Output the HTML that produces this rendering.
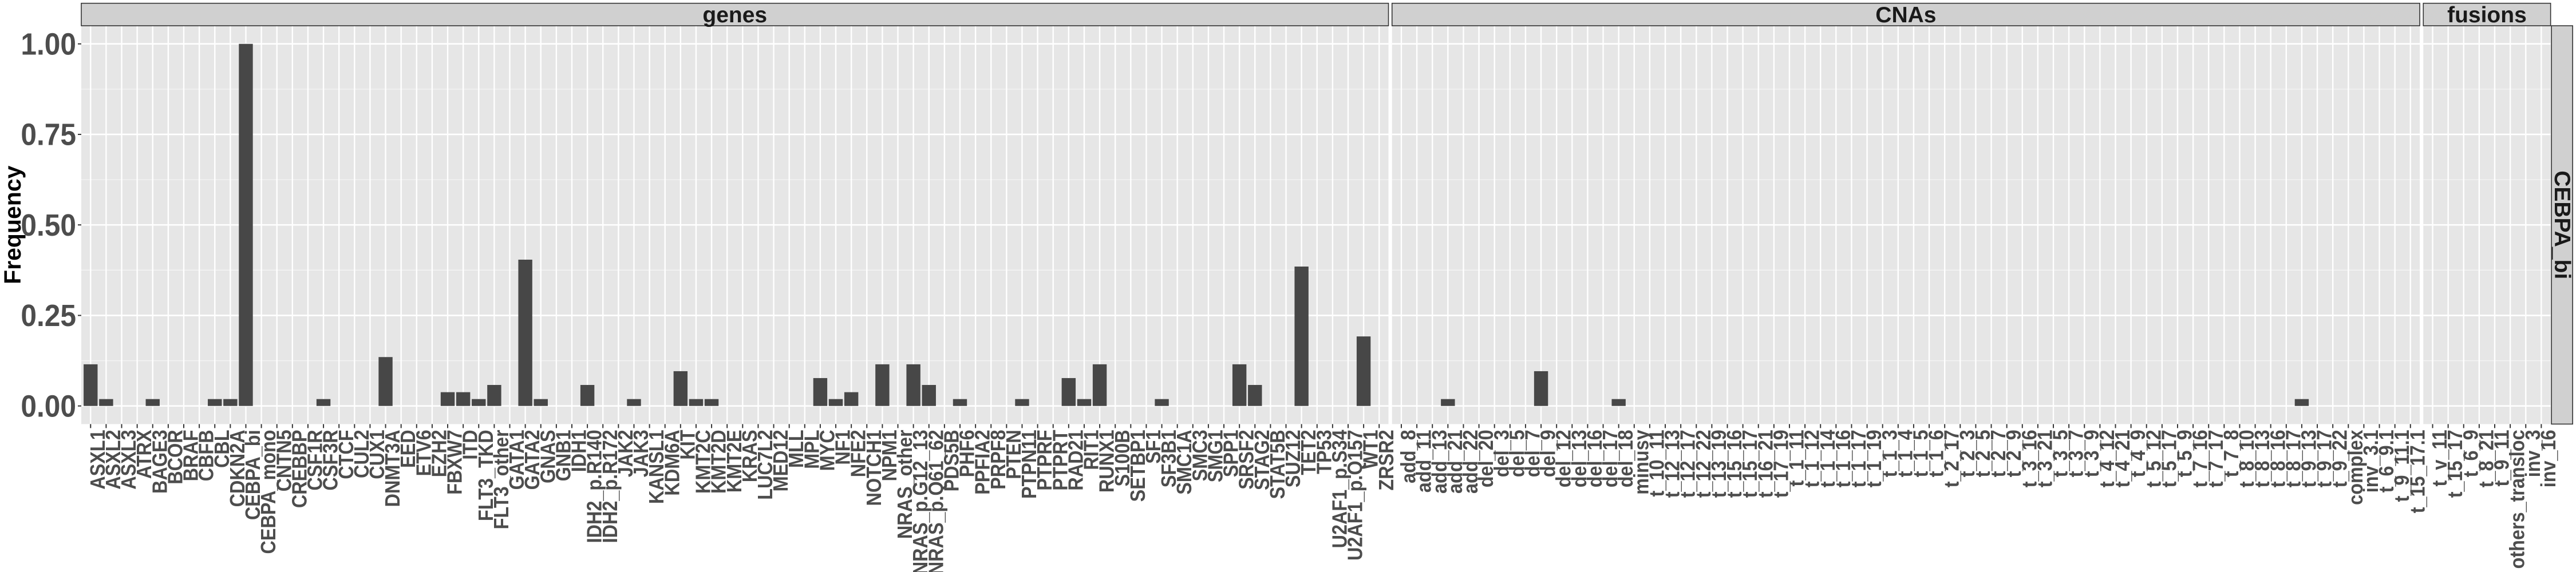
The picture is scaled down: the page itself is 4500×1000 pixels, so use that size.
<!DOCTYPE html>
<html><head><meta charset="utf-8"><style>
html,body{margin:0;padding:0;background:#fff;}
svg{display:block;}
text{font-family:"Liberation Sans",Arial,sans-serif;font-weight:bold;}
</style></head><body>
<svg id="chart" width="4500" height="1000" viewBox="0 0 4500 1000" xmlns="http://www.w3.org/2000/svg"></svg>
<script>
const geneCats = ["ASXL1","ASXL2","ASXL3","ATRX","BAGE3","BCOR","BRAF","CBFB","CBL","CDKN2A","CEBPA_bi","CEBPA_mono","CNTN5","CREBBP","CSF1R","CSF3R","CTCF","CUL2","CUX1","DNMT3A","EED","ETV6","EZH2","FBXW7","ITD","FLT3_TKD","FLT3_other","GATA1","GATA2","GNAS","GNB1","IDH1","IDH2_p.R140","IDH2_p.R172","JAK2","JAK3","KANSL1","KDM6A","KIT","KMT2C","KMT2D","KMT2E","KRAS","LUC7L2","MED12","MLL","MPL","MYC","NF1","NFE2","NOTCH1","NPM1","NRAS_other","NRAS_p.G12_13","NRAS_p.Q61_62","PDS5B","PHF6","PPFIA2","PRPF8","PTEN","PTPN11","PTPRF","PTPRT","RAD21","RIT1","RUNX1","S100B","SETBP1","SF1","SF3B1","SMC1A","SMC3","SMG1","SPP1","SRSF2","STAG2","STAT5B","SUZ12","TET2","TP53","U2AF1_p.S34","U2AF1_p.Q157","WT1","ZRSR2"];
const geneVals = [0.115,0.019,0,0,0.019,0,0,0,0.019,0.019,1.0,0,0,0,0,0.019,0,0,0,0.135,0,0,0,0.038,0.038,0.019,0.058,0,0.404,0.019,0,0,0.058,0,0,0.019,0,0,0.096,0.019,0.019,0,0,0,0,0,0,0.077,0.019,0.038,0,0.115,0,0.115,0.058,0,0.019,0,0,0,0.019,0,0,0.077,0.019,0.115,0,0,0,0.019,0,0,0,0,0.115,0.058,0,0,0.385,0,0,0,0.192,0];
const cnaCats = ["add_8","add_11","add_13","add_21","add_22","del_20","del_3","del_5","del_7","del_9","del_12","del_13","del_16","del_17","del_18","minusy","t_10_11","t_12_13","t_12_17","t_12_22","t_13_19","t_15_16","t_15_17","t_16_21","t_17_19","t_1_11","t_1_12","t_1_14","t_1_16","t_1_17","t_1_19","t_1_3","t_1_4","t_1_5","t_1_6","t_2_17","t_2_3","t_2_5","t_2_7","t_2_9","t_3_16","t_3_21","t_3_5","t_3_7","t_3_9","t_4_12","t_4_21","t_4_9","t_5_12","t_5_17","t_5_9","t_7_16","t_7_17","t_7_8","t_8_10","t_8_13","t_8_16","t_8_17","t_9_13","t_9_17","t_9_22","complex","inv_3.1","t_6_9.1","t_9_11.1","t_15_17.1"];
const cnaVals = [0,0,0,0.019,0,0,0,0,0,0.096,0,0,0,0,0.019,0,0,0,0,0,0,0,0,0,0,0,0,0,0,0,0,0,0,0,0,0,0,0,0,0,0,0,0,0,0,0,0,0,0,0,0,0,0,0,0,0,0,0,0.019,0,0,0,0,0,0,0];
const fusionCats = ["t_v_11","t_15_17","t_6_9","t_8_21","t_9_11","others_transloc","inv_3","inv_16"];
const fusionVals = [0,0,0,0,0,0,0,0];
const yTicks = [0,0.25,0.5,0.75,1.0];
const yTickLabels = ["0.00","0.25","0.50","0.75","1.00"];
const facetNames = ["genes","CNAs","fusions"];
const rowLabel = "CEBPA_bi";

const NS="http://www.w3.org/2000/svg";
const svg=document.getElementById('chart');
function mk(tag,attrs,parent){const e=document.createElementNS(NS,tag);for(const k in attrs)e.setAttribute(k,attrs[k]);(parent||svg).appendChild(e);return e;}

const U=27.12, GAP=6.2, PTOP=45, PBOT=741.4, STRIP_TOP=5.7;
const Y0=709.7, YSCALE=633;
function yPos(v){return Y0-v*YSCALE;}
const panels=[{cats:geneCats,vals:geneVals,name:facetNames[0]},{cats:cnaCats,vals:cnaVals,name:facetNames[1]},{cats:fusionCats,vals:fusionVals,name:facetNames[2]}];
let left=142;
panels.forEach(p=>{p.left=left;p.width=(p.cats.length-1+1.2)*U;left+=p.width+GAP;});
function xPos(p,i){return p.left+0.6*U+i*U;}

panels.forEach((p,pi)=>{
  const g=mk('g',{});
  
  
  const bg=mk('rect',{x:p.left,y:PTOP,width:p.width,height:PBOT-PTOP,fill:'#e6e6e6'},g);
  
  
  for(let k=0;k<4;k++){const v=0.125+k*0.25;mk('line',{x1:p.left,x2:p.left+p.width,y1:yPos(v),y2:yPos(v),stroke:'#f4f4f4','stroke-width':1.4},g);}
  yTicks.forEach(v=>{mk('line',{x1:p.left,x2:p.left+p.width,y1:yPos(v),y2:yPos(v),stroke:'#ffffff','stroke-width':2.6},g);});
  p.cats.forEach((c,i)=>{mk('line',{x1:xPos(p,i),x2:xPos(p,i),y1:PTOP,y2:PBOT,stroke:'#ffffff','stroke-width':2.4},g);});
  p.vals.forEach((v,i)=>{
    if(v<=0)return;
    const r=mk('rect',{x:xPos(p,i)-0.45*U,y:yPos(v),width:0.9*U,height:Y0-yPos(v),fill:'#474747'},g);
    
    
  });
  p.cats.forEach((c,i)=>{
    const x=xPos(p,i);
    mk('line',{x1:x,x2:x,y1:PBOT,y2:PBOT+7,stroke:'#333','stroke-width':2},g);
    const t=mk('text',{transform:`translate(${x+13},${PBOT+10}) rotate(-90) scale(0.9,1)`,'text-anchor':'end','dominant-baseline':'central','font-size':36,'font-weight':'bold',fill:'#4d4d4d'},g);
    t.textContent=c;
    
    
  });
  const s=mk('rect',{x:p.left,y:STRIP_TOP,width:p.width,height:PTOP-STRIP_TOP,fill:'#d0d0d0',stroke:'#333','stroke-width':1.6},g);
  
  
  const st=mk('text',{x:p.left+p.width/2,y:(STRIP_TOP+PTOP)/2+1,'text-anchor':'middle','dominant-baseline':'central','font-size':39,'font-weight':'bold',fill:'#1a1a1a'},g);
  st.textContent=p.name;
  
  
});

const lastP=panels[panels.length-1];
const rsx=lastP.left+lastP.width+1.5;
const rs=mk('rect',{x:rsx,y:PTOP,width:37,height:PBOT-PTOP,fill:'#d0d0d0',stroke:'#333','stroke-width':1.6});


const rst=mk('text',{transform:`translate(${rsx+18.5},${(PTOP+PBOT)/2}) rotate(90)`,'text-anchor':'middle','dominant-baseline':'central','font-size':39,'font-weight':'bold',fill:'#1a1a1a'});
rst.textContent=rowLabel;



yTicks.forEach((v,i)=>{
  mk('line',{x1:136,x2:142,y1:yPos(v),y2:yPos(v),stroke:'#333','stroke-width':2});
  const t=mk('text',{transform:`translate(133,${yPos(v)}) scale(0.92,1)`,'text-anchor':'end','dominant-baseline':'central','font-size':54,'font-weight':'bold',fill:'#4d4d4d'});
  t.textContent=yTickLabels[i];
  
  
});
const yt=mk('text',{transform:`translate(22,${(PTOP+PBOT)/2}) rotate(-90)`,'text-anchor':'middle','dominant-baseline':'central','font-size':41,'font-weight':'bold',fill:'#000'});
yt.textContent='Frequency';


</script>
</body></html>
